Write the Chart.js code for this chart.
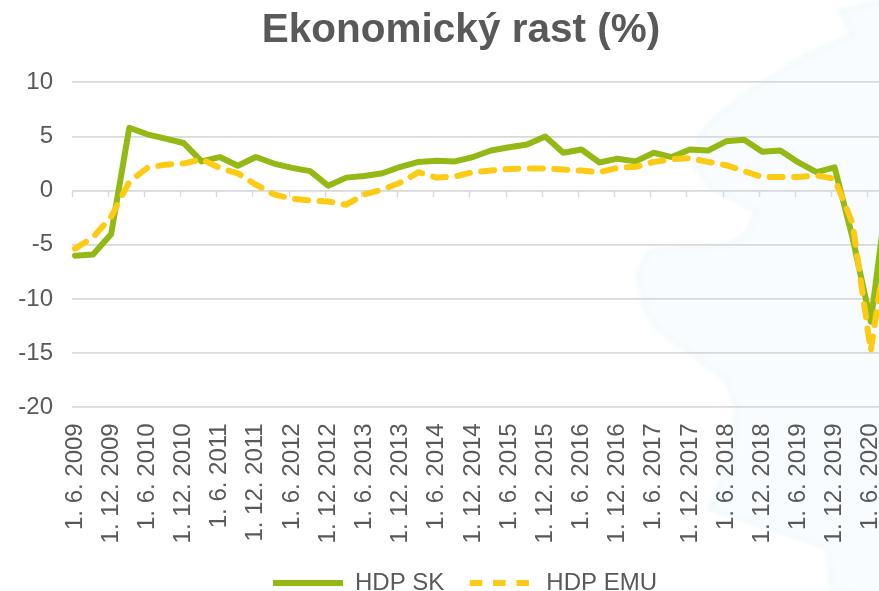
<!DOCTYPE html>
<html>
<head>
<meta charset="utf-8">
<title>Ekonomický rast</title>
<script src="https://cdn.jsdelivr.net/npm/chart.js@4"></script>
<style>
  html, body { margin: 0; padding: 0; width: 879px; height: 591px; overflow: hidden; background: #fff; }
  #wrap { position: relative; width: 922px; height: 605px; }
  #bg { position: absolute; left: 0; top: 0; }
</style>
</head>
<body>
<div id="wrap">
  <!-- pale map watermark behind the chart -->
  <svg id="bg" width="879" height="591">
    <defs><filter id="soft"><feGaussianBlur stdDeviation="2.5"/></filter></defs>
    <path d="M840 11 L853 34 L800 60 L750 91 L717 117 L700 136 L695 166 L713 189 L757 211 L747 234 L727 245 L650 251 L638 272 L645 309 L657 328 L697 358 L727 381 L737 411 L733 453 L710 509 L827 547 L833 591 L890 600 L890 0 Z"
          fill="#f9fcfe" stroke="#edf6fa" stroke-width="3" filter="url(#soft)"/>
  </svg>
  <canvas id="graphCanvas" width="922" height="605" style="position:absolute;left:0;top:0"></canvas>
</div>
<script>
// quarterly values, first one is June 2009
var hdpSk = [-6.0, -5.9, -4.0, 5.8, 5.2, 4.8, 4.4, 2.7, 3.1, 2.3, 3.1, 2.5, 2.1, 1.8, 0.45, 1.2,
  1.35, 1.6, 2.2, 2.65, 2.75, 2.7, 3.1, 3.7, 4.0, 4.25, 5.0, 3.5, 3.8, 2.6, 2.95, 2.7,
  3.5, 3.1, 3.8, 3.7, 4.55, 4.7, 3.6, 3.7, 2.6, 1.7, 2.15, -4.4, -12.1, 0.8];
var hdpEmu = [-5.35, -4.3, -2.4, 0.8, 2.1, 2.4, 2.5, 2.9, 2.1, 1.6, 0.55, -0.35, -0.75, -0.9, -1.0, -1.3,
  -0.35, 0.1, 0.75, 1.7, 1.2, 1.3, 1.7, 1.85, 2.0, 2.05, 2.05, 1.95, 1.85, 1.7, 2.1, 2.2,
  2.65, 2.9, 3.0, 2.65, 2.35, 1.8, 1.25, 1.25, 1.25, 1.4, 1.1, -3.05, -14.8, -3.5];

var startYear = 2009;
var startMonth = 6;
var monthCount = 141;

// the axis runs in months, labels only on every sixth one
var months = [];
for (var i = 0; i < monthCount; i++) {
  var m = startMonth - 1 + i;
  months.push('1. ' + (m % 12 + 1) + '. ' + (startYear + Math.floor(m / 12)));
}

function quarterly(values) {
  return values.map(function(v, i) { return { x: months[i * 3], y: v }; });
}

var textColor = '#595959';
var gridColor = '#d9d9d9';
var font = { family: '"Liberation Sans", Arial, sans-serif', size: 24 };

// legend sits a bit right of the title in the original
var legendShift = {
  id: 'legendShift',
  afterLayout: function(chart) {
    chart.legend.left += 4;
    chart.legend.right += 4;
  }
};

var ctx = document.getElementById('graphCanvas').getContext('2d');

new Chart(ctx, {
  type: 'line',
  plugins: [legendShift],
  data: {
    labels: months,
    datasets: [{
      label: 'HDP SK',
      data: quarterly(hdpSk),
      borderColor: '#94b814',
      backgroundColor: '#94b814',
      borderWidth: 6,
      borderCapStyle: 'round',
      borderJoinStyle: 'round',
      pointRadius: 0,
      tension: 0,
      spanGaps: true,
      order: 1
    }, {
      label: 'HDP EMU',
      data: quarterly(hdpEmu),
      borderColor: '#fdcb14',
      backgroundColor: '#fdcb14',
      borderWidth: 6,
      borderDash: [13, 11.4],
      borderCapStyle: 'round',
      borderJoinStyle: 'round',
      pointRadius: 0,
      tension: 0,
      spanGaps: true,
      order: 0
    }]
  },
  options: {
    responsive: false,
    animation: false,
    scales: {
      x: {
        type: 'category',
        offset: true,
        grid: { display: false, drawTicks: false },
        border: { display: false },
        afterFit: function(scale) {
          scale.height = 143.7;
          scale.paddingLeft = 0;
          scale.paddingRight = 0;
        },
        ticks: {
          autoSkip: false,
          minRotation: 90,
          maxRotation: 90,
          padding: 16,
          color: textColor,
          font: font,
          callback: function(value, index) {
            return index % 6 === 0 ? this.getLabelForValue(value) : '';
          }
        }
      },
      // second x axis only carries the tick marks on the zero line
      xZero: {
        type: 'category',
        axis: 'x',
        position: { y: 0 },
        offset: true,
        labels: months,
        border: { display: false },
        grid: {
          offset: true,
          drawOnChartArea: false,
          tickLength: 6,
          tickWidth: 1.5,
          tickColor: function(c) { return c.index % 6 === 0 ? gridColor : 'rgba(0,0,0,0)'; }
        },
        ticks: { display: false, autoSkip: false }
      },
      y: {
        min: -20,
        max: 10,
        border: { display: false },
        afterFit: function(scale) { scale.width = 72; },
        grid: { color: gridColor, lineWidth: 1.8, drawTicks: false },
        ticks: { stepSize: 5, padding: 19, color: textColor, font: font }
      }
    },
    plugins: {
      title: {
        display: true,
        text: 'Ekonomický rast (%)',
        color: textColor,
        font: { family: font.family, size: 40.5, weight: 'bold' },
        padding: { top: 7, bottom: 26.7 }
      },
      legend: {
        position: 'bottom',
        labels: {
          color: textColor,
          font: font,
          usePointStyle: true,
          pointStyle: 'line',
          pointStyleWidth: 70,
          padding: 20,
          sort: function(a, b) { return a.datasetIndex - b.datasetIndex; },
          generateLabels: function(chart) {
            var items = Chart.defaults.plugins.legend.labels.generateLabels(chart);
            // the legend line is stroked there and back, so the dash has to be symmetric
            items.forEach(function(item) {
              if (item.datasetIndex === 1) {
                item.lineDash = [12.5, 10.83];
                item.lineDashOffset = 17.915;
              }
            });
            return items;
          }
        }
      },
      tooltip: { enabled: false }
    }
  }
});
</script>
</body>
</html>
